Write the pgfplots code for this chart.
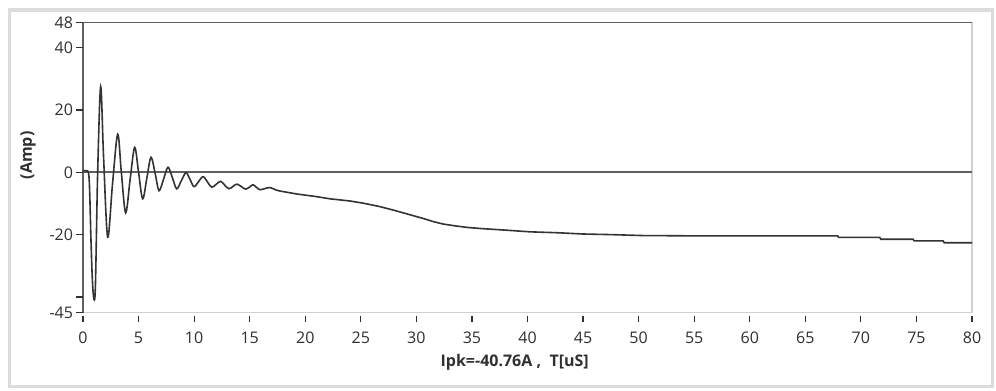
\documentclass[border=0pt]{standalone}
\usepackage{fontspec}
\setmainfont{Open Sans}
\usepackage{pgfplots}
\pgfplotsset{compat=1.18}
\definecolor{frame}{HTML}{DCDCDC}
\definecolor{axdark}{HTML}{606060}
\definecolor{axlight}{HTML}{D0D0D0}
\definecolor{sig}{HTML}{333333}
\definecolor{txt}{HTML}{303030}
\begin{document}
\begin{tikzpicture}
\useasboundingbox (0pt,0pt) rectangle (747pt,292.5pt);
\fill[white] (0pt,0pt) rectangle (747pt,292.5pt);
\draw[frame, line width=2.4pt] (7.2pt,2.8pt) rectangle (744.6pt,285.0pt);
\begin{axis}[
  at={(62.25pt,58.1pt)}, anchor=south west,
  scale only axis, width=666.75pt, height=217.4pt,
  xmin=0, xmax=80, ymin=-45, ymax=48,
  axis line style={draw=axlight, line width=1pt},
  clip=false,
  xtick={0,5,...,80},
  xticklabels={0,5,10,15,20,25,30,35,40,45,50,55,60,65,70,75,80},
  ytick={-45,-40,-20,0,20,40,48},
  yticklabels={-45,,-20,0,20,40,48},
  tick pos=left,
  major tick length=0pt,
  ticklabel style={font=\fontsize{12}{14}\selectfont, text=txt},
  xticklabel style={yshift=-11pt},
  yticklabel style={xshift=-4pt},
]
\draw[axdark, line width=1.1pt] (rel axis cs:0,0) -- (rel axis cs:0,1) -- (rel axis cs:1,1);
\pgfplotsinvokeforeach{0,5,...,80}{\draw[txt, line width=0.9pt] ([yshift=-2.5pt]axis cs:#1,-45) -- ([yshift=-7pt]axis cs:#1,-45);}
\pgfplotsinvokeforeach{-45,-40,-20,0,20,40,48}{\draw[txt, line width=0.9pt] (axis cs:0,#1) -- ([xshift=-5pt]axis cs:0,#1);}
\addplot[axdark, line width=1.5pt] coordinates {(0,0) (80,0)};
\addplot[sig, line width=1.2pt, smooth, tension=0.55] coordinates {
(0,0.3) (0.3,0.5) (0.55,-2) (0.72,-22) (0.85,-35) (0.99,-40.76) (1.12,-36)
(1.32,0) (1.59,27.5) (1.85,5) (2.22,-20.8) (2.65,-4) (3.12,12.2) (3.45,0)
(3.84,-13.0) (4.25,-2) (4.65,8.0) (5.0,0) (5.37,-8.5) (5.75,-1.8) (6.12,4.8)
(6.5,-0.5) (6.84,-5.9) (7.25,-2.2) (7.65,1.6) (8.05,-1.8) (8.43,-5.3)
(8.85,-2.7) (9.27,-0.1) (9.63,-2.3) (9.99,-4.6) (10.4,-3.0) (10.8,-1.4)
(11.2,-3.1) (11.58,-4.8) (12.0,-3.8) (12.39,-2.9) (12.75,-4.1) (13.14,-5.3)
(13.5,-4.5) (13.86,-3.8) (14.25,-4.6) (14.64,-5.4) (15.0,-4.7) (15.3,-4.0)
(15.6,-4.8) (15.93,-5.6) (16.4,-5.2) (16.83,-4.9) (17.3,-5.6)};
\addplot[sig, line width=1.2pt] coordinates {
(17.3,-5.6) (17.7,-6.0) (19.3,-7.0) (21.0,-7.8) (22.2,-8.5) (24.0,-9.2)
(25.2,-9.9) (26.7,-11.0) (28.0,-12.2) (29.2,-13.4) (30.6,-14.8) (31.5,-15.8)
(32.4,-16.6) (33.5,-17.2) (34.6,-17.7) (36.0,-18.1) (38.2,-18.6) (40.2,-19.1)
(42.7,-19.4) (45.0,-19.8) (47.5,-20.0) (50.4,-20.3) (55.0,-20.4) (60.0,-20.4)
(67.9,-20.4) (68.0,-20.9) (71.7,-20.9) (71.8,-21.5) (74.7,-21.5) (74.8,-22.0)
(77.4,-22.0) (77.5,-22.6) (80.0,-22.6)};
\end{axis}
\node[font=\bfseries\fontsize{12}{14}\selectfont, text=txt] at (386pt,20.5pt) {Ipk=-40.76A ,\ \ T[uS]};
\node[font=\bfseries\fontsize{12}{14}\selectfont, text=txt, rotate=90] at (21pt,176pt) {(Amp)};
\end{tikzpicture}
\end{document}
